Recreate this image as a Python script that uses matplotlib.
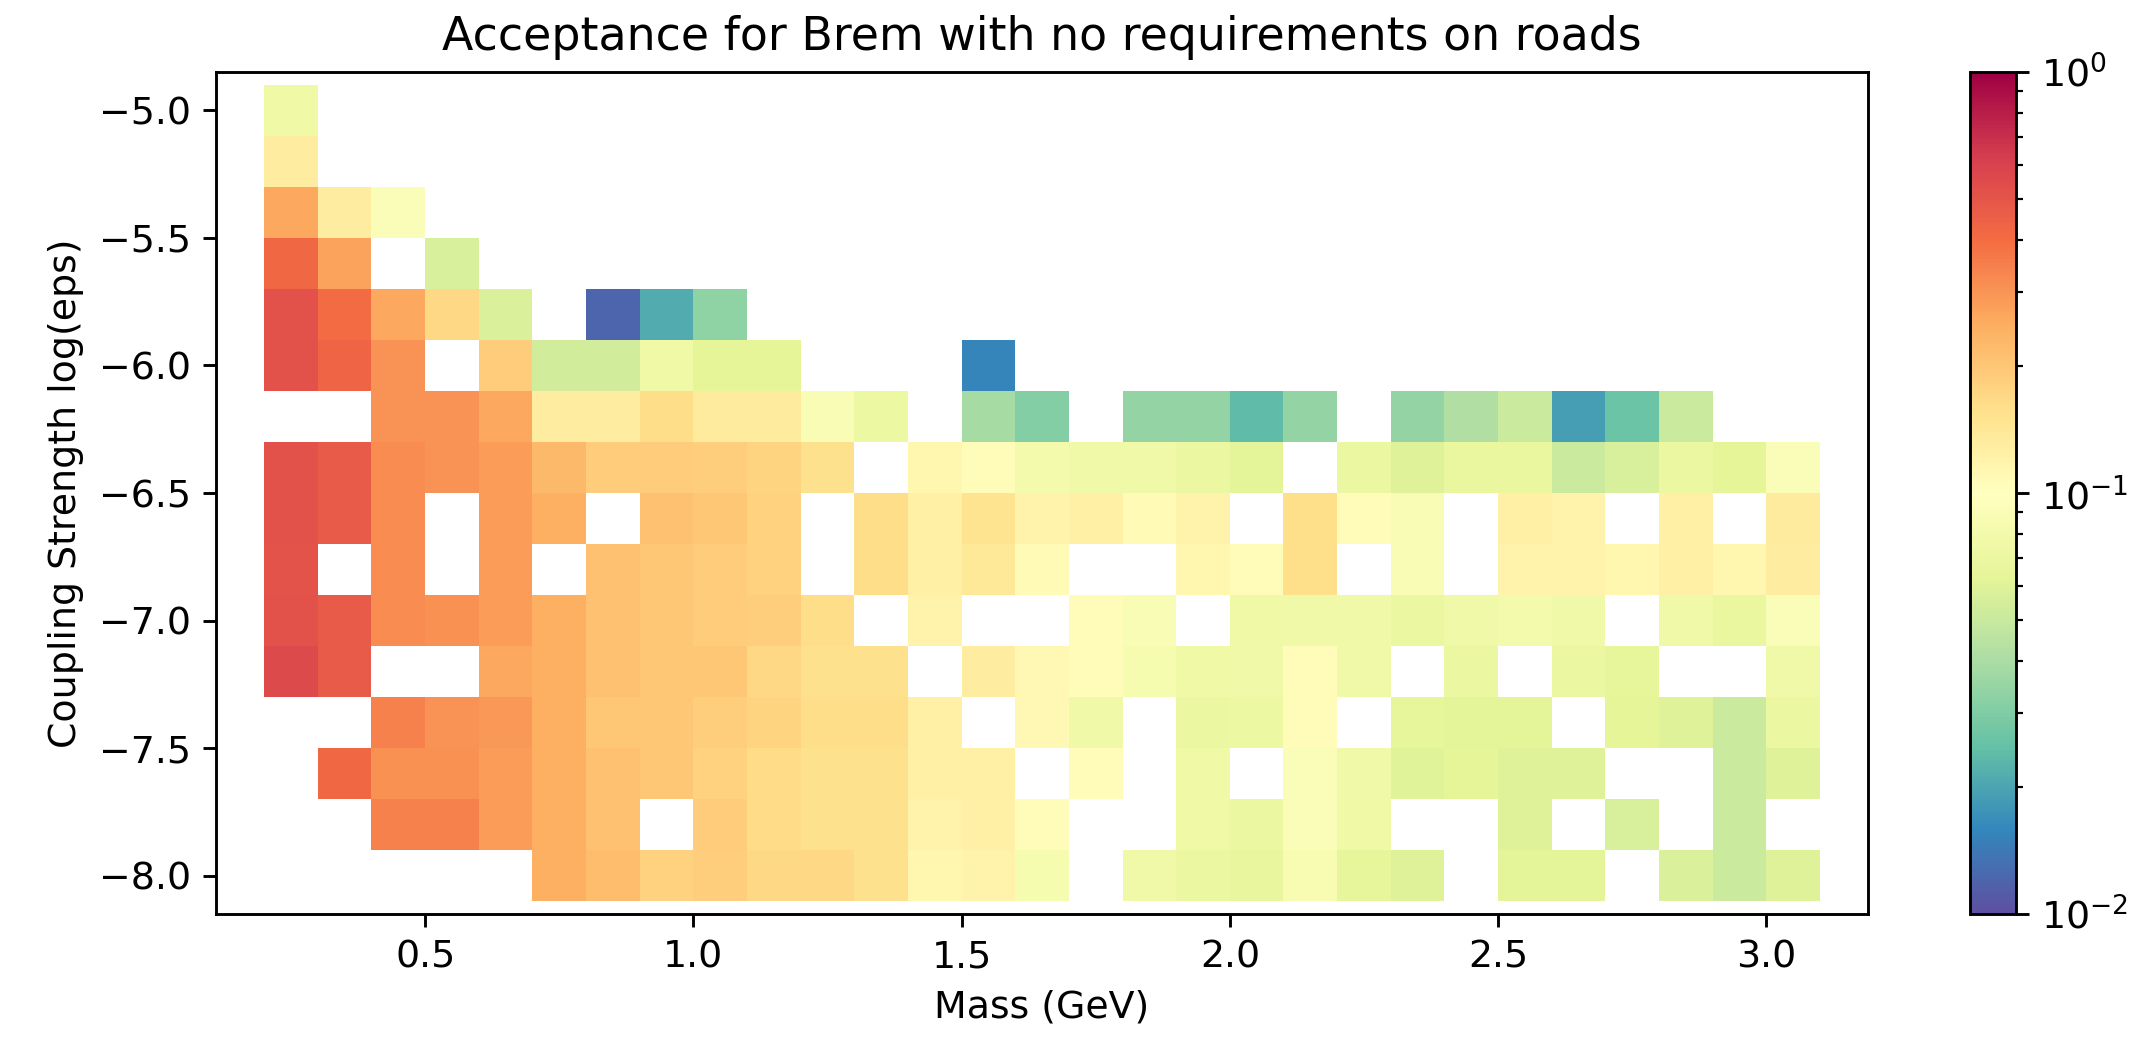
import numpy as np
import matplotlib
matplotlib.use("Agg")
import matplotlib.pyplot as plt
from matplotlib.colors import LogNorm

n = np.nan

# Mass bin centres (GeV) and coupling-strength bin centres (log10 eps)
mass_bins = np.round(np.arange(0.25, 3.1, 0.1), 2)
log_eps_bins = np.round(np.arange(-5.0, -8.01, -0.2), 1)

# Acceptance per (log eps, mass) bin; NaN = no entry
acceptance = [
    # -5.0
    [0.074, n, n, n, n, n, n, n, n, n, n, n, n, n, n, n, n, n, n, n, n, n, n, n, n, n, n, n, n],
    # -5.2
    [0.13, n, n, n, n, n, n, n, n, n, n, n, n, n, n, n, n, n, n, n, n, n, n, n, n, n, n, n, n],
    # -5.4
    [0.26, 0.13, 0.09, n, n, n, n, n, n, n, n, n, n, n, n, n, n, n, n, n, n, n, n, n, n, n, n, n, n],
    # -5.6
    [0.42, 0.27, n, 0.057, n, n, n, n, n, n, n, n, n, n, n, n, n, n, n, n, n, n, n, n, n, n, n, n, n],
    # -5.8
    [0.52, 0.40, 0.26, 0.17, 0.058, n, 0.012, 0.021, 0.033, n, n, n, n, n, n, n, n, n, n, n, n, n, n, n, n, n, n, n, n],
    # -6.0
    [0.52, 0.43, 0.30, n, 0.19, 0.054, 0.054, 0.074, 0.063, 0.063, n, n, n, 0.0156, n, n, n, n, n, n, n, n, n, n, n, n, n, n, n],
    # -6.2
    [n, n, 0.30, 0.30, 0.26, 0.13, 0.13, 0.16, 0.135, 0.135, 0.089, 0.072, n, 0.039, 0.031, n, 0.034, 0.034, 0.024, 0.034, n, 0.034, 0.042, 0.051, 0.019, 0.026, 0.051, n, n],
    # -6.4
    [0.52, 0.47, 0.32, 0.30, 0.28, 0.225, 0.19, 0.19, 0.185, 0.175, 0.155, n, 0.115, 0.104, 0.08, 0.076, 0.076, 0.07, 0.062, n, 0.071, 0.06, 0.068, 0.068, 0.051, 0.057, 0.071, 0.063, 0.09],
    # -6.6
    [0.52, 0.47, 0.32, n, 0.28, 0.25, n, 0.21, 0.20, 0.18, n, 0.16, 0.125, 0.15, 0.118, 0.125, 0.108, 0.118, n, 0.158, 0.104, 0.089, n, 0.125, 0.12, n, 0.125, n, 0.135],
    # -6.8
    [0.51, n, 0.32, n, 0.28, n, 0.21, 0.20, 0.19, 0.18, n, 0.16, 0.125, 0.14, 0.108, n, n, 0.115, 0.104, 0.158, n, 0.089, n, 0.12, 0.12, 0.115, 0.125, 0.115, 0.13],
    # -7.0
    [0.52, 0.47, 0.32, 0.31, 0.28, 0.25, 0.21, 0.20, 0.19, 0.185, 0.16, n, 0.12, n, n, 0.104, 0.089, n, 0.074, 0.076, 0.076, 0.071, 0.076, 0.08, 0.076, n, 0.076, 0.068, 0.09],
    # -7.2
    [0.56, 0.47, n, n, 0.26, 0.25, 0.21, 0.20, 0.20, 0.17, 0.155, 0.155, n, 0.13, 0.11, 0.104, 0.083, 0.074, 0.076, 0.104, 0.076, n, 0.07, n, 0.07, 0.066, n, n, 0.076],
    # -7.4
    [n, n, 0.34, 0.30, 0.29, 0.25, 0.20, 0.20, 0.185, 0.175, 0.16, 0.16, 0.125, n, 0.11, 0.076, n, 0.071, 0.072, 0.104, n, 0.065, 0.062, 0.062, n, 0.063, 0.06, 0.051, 0.07],
    # -7.6
    [n, 0.42, 0.31, 0.31, 0.28, 0.25, 0.21, 0.20, 0.18, 0.165, 0.155, 0.155, 0.125, 0.125, n, 0.104, n, 0.074, n, 0.091, 0.076, 0.061, 0.063, 0.06, 0.06, n, n, 0.051, 0.06],
    # -7.8
    [n, n, 0.34, 0.34, 0.28, 0.25, 0.21, n, 0.19, 0.165, 0.155, 0.155, 0.12, 0.125, 0.104, n, n, 0.074, 0.071, 0.091, 0.074, n, n, 0.06, n, 0.057, n, 0.051, n],
    # -8.0
    [n, n, n, n, n, 0.25, 0.22, 0.18, 0.185, 0.17, 0.17, 0.155, 0.115, 0.12, 0.083, n, 0.076, 0.071, 0.067, 0.086, 0.066, 0.06, n, 0.062, 0.062, n, 0.058, 0.051, 0.06],
]

title = "Acceptance for Brem with no requirements on roads"
xlabel = "Mass (GeV)"
ylabel = "Coupling Strength log(eps)"

plt.rcParams["font.size"] = 10.5

acc = np.ma.masked_invalid(np.array(acceptance, dtype=float))

dm = 0.1
de = 0.2
x_edges = np.concatenate([mass_bins - dm / 2, [mass_bins[-1] + dm / 2]])
y_edges = np.concatenate([log_eps_bins + de / 2, [log_eps_bins[-1] - de / 2]])

dpi = 260
fig = plt.figure(figsize=(2142 / dpi, 1039 / dpi), dpi=dpi)
ax = fig.add_axes([0.1008, 0.1203, 0.7714, 0.8104])
cax = fig.add_axes([0.9197, 0.1203, 0.0215, 0.8104])

mesh = ax.pcolormesh(x_edges, y_edges, acc, cmap="Spectral_r",
                     norm=LogNorm(vmin=1e-2, vmax=1.0))

# 5% padding around the bin centres
xr = mass_bins.max() - mass_bins.min()
yr = log_eps_bins.max() - log_eps_bins.min()
ax.set_xlim(mass_bins.min() - 0.05 * xr, mass_bins.max() + 0.05 * xr)
ax.set_ylim(log_eps_bins.min() - 0.05 * yr, log_eps_bins.max() + 0.05 * yr)

ax.set_title(title, fontsize=12.7)
ax.set_xlabel(xlabel)
ax.set_ylabel(ylabel)

fig.colorbar(mesh, cax=cax)

fig.savefig("out.png", dpi=dpi)
